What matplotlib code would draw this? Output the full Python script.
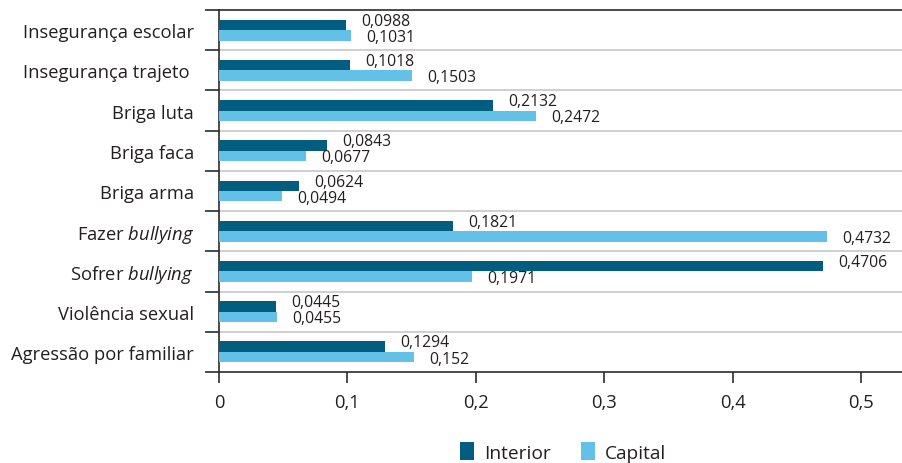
import matplotlib
matplotlib.use("Agg")
import matplotlib.pyplot as plt
from matplotlib.patches import Patch

FONT = "Open Sans"
plt.rcParams["font.family"] = [FONT, "DejaVu Sans"]
plt.rcParams["mathtext.fontset"] = "custom"
plt.rcParams["mathtext.rm"] = FONT
plt.rcParams["mathtext.it"] = FONT + ":italic"

categories = [
    "Insegurança escolar",
    "Insegurança trajeto ",
    "Briga luta",
    "Briga faca",
    "Briga arma",
    r"Fazer $\it{bullying}$",
    r"Sofrer $\it{bullying}$",
    "Violência sexual",
    "Agressão por familiar",
]
interior = [0.0988, 0.1018, 0.2132, 0.0843, 0.0624, 0.1821, 0.4706, 0.0445, 0.1294]
capital = [0.1031, 0.1503, 0.2472, 0.0677, 0.0494, 0.4732, 0.1971, 0.0455, 0.152]
interior_labels = ["0,0988", "0,1018", "0,2132", "0,0843", "0,0624", "0,1821", "0,4706", "0,0445", "0,1294"]
capital_labels = ["0,1031", "0,1503", "0,2472", "0,0677", "0,0494", "0,4732", "0,1971", "0,0455", "0,152"]
xticks = [0, 0.1, 0.2, 0.3, 0.4, 0.5]
xtick_labels = ["0", "0,1", "0,2", "0,3", "0,4", "0,5"]

C_INT = "#035d81"
C_CAP = "#63c1e7"
TXT = "#231f20"
DARK = "#2b2b2b"
GRID = "#cfcfcf"

W, H = 902, 464
fig = plt.figure(figsize=(W / 100, H / 100), dpi=100)
ax = fig.add_axes([219 / W, (H - 373) / H, 1 - 219 / W, (373 - 11) / H])

n = len(categories)
ys = list(range(n))
bh = 0.26
ax.barh([y - bh / 2 for y in ys], interior, height=bh, color=C_INT, zorder=3)
ax.barh([y + bh / 2 for y in ys], capital, height=bh, color=C_CAP, zorder=3)

for y, v, s in zip(ys, interior, interior_labels):
    ax.annotate(s, (v, y - bh / 2), xytext=(11.0, 3.0), textcoords="offset points",
                ha="left", va="center", fontsize=11.3, color=TXT)
for y, v, s in zip(ys, capital, capital_labels):
    ax.annotate(s, (v, y + bh / 2), xytext=(11.0, -1.0), textcoords="offset points",
                ha="left", va="center", fontsize=11.3, color=TXT)

ax.set_xlim(0, (W - 219) / 1284)
ax.set_ylim(n - 0.5, -0.5)

# category separators
for b in range(1, n):
    ax.axhline(b - 0.5, color=GRID, lw=1.4, zorder=1)

ax.set_yticks(ys)
ax.set_yticklabels(categories, fontsize=13.2, color=TXT)
ax.set_yticks([b - 0.5 for b in range(n + 1)], minor=True)
ax.tick_params(axis="y", which="major", length=0, pad=18)
ax.tick_params(axis="y", which="minor", length=10, width=1.2, color=DARK, direction="out")

ax.set_xticks(xticks)
ax.set_xticklabels(xtick_labels, fontsize=13.2, color=TXT)
ax.tick_params(axis="x", length=8, width=1.2, color=DARK, direction="out", pad=7)

for side in ("top", "bottom", "left"):
    ax.spines[side].set_color(DARK)
    ax.spines[side].set_linewidth(1.2)
ax.spines["right"].set_visible(False)

handles = [Patch(facecolor=C_INT, edgecolor="none"), Patch(facecolor=C_CAP, edgecolor="none")]
fig.legend(handles, ["Interior", "Capital"], loc="center", bbox_to_anchor=(563 / W, 1 - 453 / H),
           ncol=2, frameon=False, fontsize=13.8, handlelength=0.75, handleheight=1.0,
           handletextpad=0.5, columnspacing=1.6, labelcolor=TXT)

fig.savefig("out.png", dpi=100)
